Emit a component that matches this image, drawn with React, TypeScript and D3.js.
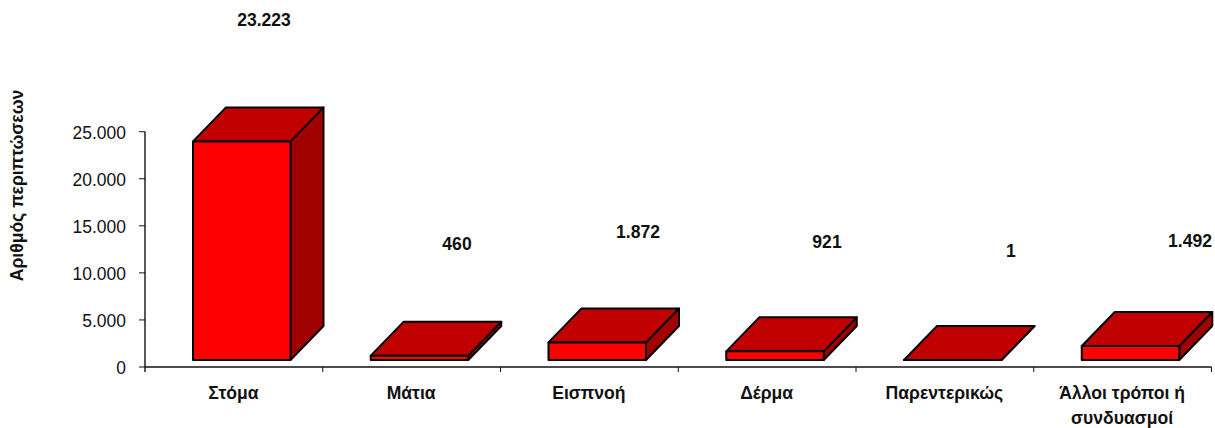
import React from "react";
import * as d3 from "d3";

const categories: string[][] = [["Στόμα"], ["Μάτια"], ["Εισπνοή"], ["Δέρμα"], ["Παρεντερικώς"], ["Άλλοι τρόποι ή", "συνδυασμοί"]];
const values = [23223, 460, 1872, 921, 1, 1492];
const valueLabels = ["23.223", "460", "1.872", "921", "1", "1.492"];
const yTicks = [0, 5000, 10000, 15000, 20000, 25000];
const yTickLabels = ["0", "5.000", "10.000", "15.000", "20.000", "25.000"];
const yTitle = "Αριθμός περιπτώσεων";

// layout only
const labelX = [264, 457, 638, 827, 1011, 1190];
const labelY = [19, 243, 231, 241, 250, 240];
const W = 1215, H = 428;
const font = "'Liberation Sans', Arial, sans-serif";
const squeeze = 0.925;

export default function App() {
  const x = d3.scaleBand<number>().domain(d3.range(values.length)).range([145, 1211.5]).padding(0);
  const y = d3.scaleLinear().domain([0, 25000]).range([367, 131.7]);
  const inset = 48, barW = 97.5, lift = 7, dx = 33, dy = 34;
  const step = x.step();
  return (
    <svg width={W} height={H} viewBox={`0 0 ${W} ${H}`} style={{ position: "absolute", left: 0, top: 0, background: "#fff" }} fontFamily={font}>
      {values.map((v, i) => {
        const x0 = x(i)! + inset, x1 = x0 + barW;
        const b = y(0) - lift, t = y(v) - lift;
        const poly = (pts: number[][]) => d3.line()(pts as [number, number][])! + "Z";
        return (
          <g key={i} stroke="#000" strokeWidth={2} strokeLinejoin="round">
            <path d={poly([[x1, b], [x1 + dx, b - dy], [x1 + dx, t - dy], [x1, t]])} fill="#a00000" />
            <path d={poly([[x0, t], [x0 + dx, t - dy], [x1 + dx, t - dy], [x1, t]])} fill="#c00000" />
            <rect x={x0} y={t} width={barW} height={b - t} fill="#ff0000" />
          </g>
        );
      })}
      <line x1={145} x2={1211.5} y1={y(0)} y2={y(0)} stroke="#111" strokeWidth={1.6} />
      <line x1={145} x2={145} y1={y(25000)} y2={y(0) + 5} stroke="#111" strokeWidth={1.4} />
      {yTicks.map((t, i) => (
        <g key={t}>
          <line x1={139} x2={145} y1={y(t)} y2={y(t)} stroke="#111" strokeWidth={1} />
          <text transform={`translate(126,${y(t) + 7}) scale(0.92,1)`} textAnchor="end" fontSize={19} fill="#111">{yTickLabels[i]}</text>
        </g>
      ))}
      {d3.range(values.length).map((i) => (
        <line key={i} x1={x(i)! + step} x2={x(i)! + step} y1={y(0)} y2={y(0) + 5} stroke="#111" strokeWidth={1} />
      ))}
      {categories.map((lines, i) =>
        lines.map((l, j) => (
          <text key={`${i}-${j}`} transform={`translate(${x(i)! + step / 2 - 0.5},${399 + j * 25}) scale(${squeeze},1)`} textAnchor="middle" fontSize={19} fontWeight="bold" fill="#111">{l}</text>
        ))
      )}
      {valueLabels.map((l, i) => (
        <text key={i} transform={`translate(${labelX[i]},${labelY[i] + 7}) scale(${squeeze},1)`} textAnchor="middle" fontSize={19} fontWeight="bold" fill="#111">{l}</text>
      ))}
      <text transform={`translate(23,185.5) rotate(-90) scale(${squeeze},1)`} textAnchor="middle" fontSize={19} fontWeight="bold" fill="#111">{yTitle}</text>
    </svg>
  );
}
